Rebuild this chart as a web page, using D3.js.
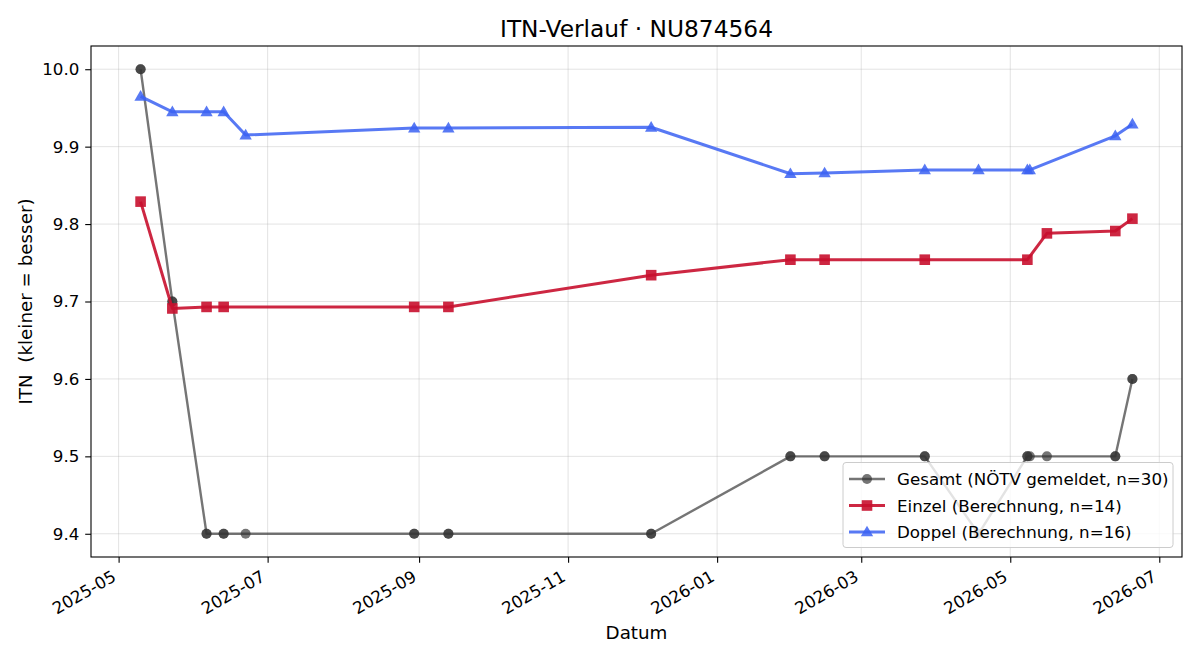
<!DOCTYPE html>
<html>
<head>
<meta charset="utf-8">
<script src="https://cdn.jsdelivr.net/npm/d3@7"></script>
<style>
  html, body { margin: 0; padding: 0; background: #fff; }
  text { font-family: "DejaVu Sans", sans-serif; }
</style>
</head>
<body>
<svg id="chart" width="1200" height="660"></svg>
<script>
// ---- data ----
const gesamtDates = ["2025-05-10","2025-05-10","2025-05-23","2025-05-23","2025-06-06","2025-06-06","2025-06-13","2025-06-13","2025-06-22",
  "2025-08-30","2025-08-30","2025-09-13","2025-09-13","2025-12-05","2025-12-05","2026-01-31","2026-01-31","2026-02-14","2026-02-14",
  "2026-03-27","2026-03-27","2026-04-18","2026-05-08","2026-05-08","2026-05-09","2026-05-16","2026-06-13","2026-06-13","2026-06-20","2026-06-20"];
const gesamtValues = [10.0,10.0,9.7,9.7,9.4,9.4,9.4,9.4,9.4,
  9.4,9.4,9.4,9.4,9.4,9.4,9.5,9.5,9.5,9.5,
  9.5,9.5,9.4,9.5,9.5,9.5,9.5,9.5,9.5,9.6,9.6];

const einzelDates = ["2025-05-10","2025-05-23","2025-06-06","2025-06-13","2025-08-30","2025-09-13","2025-12-05",
  "2026-01-31","2026-02-14","2026-03-27","2026-05-08","2026-05-16","2026-06-13","2026-06-20"];
const einzelValues = [9.829,9.691,9.693,9.693,9.693,9.693,9.734,9.754,9.754,9.754,9.754,9.788,9.791,9.807];

const doppelDates = ["2025-05-10","2025-05-23","2025-06-06","2025-06-13","2025-06-22","2025-08-30","2025-09-13","2025-12-05",
  "2026-01-31","2026-02-14","2026-03-27","2026-04-18","2026-05-08","2026-05-09","2026-06-13","2026-06-20"];
const doppelValues = [9.965,9.945,9.945,9.945,9.915,9.924,9.924,9.925,9.865,9.866,9.870,9.870,9.870,9.870,9.914,9.929];

const xTickLabels = ["2025-05","2025-07","2025-09","2025-11","2026-01","2026-03","2026-05","2026-07"];
const yTickValues = [9.4,9.5,9.6,9.7,9.8,9.9,10.0];
const seriesNames = ["Gesamt (NÖTV gemeldet, n=30)","Einzel (Berechnung, n=14)","Doppel (Berechnung, n=16)"];
const titleText = "ITN-Verlauf · NU874564";
const xLabel = "Datum";
const yLabel = "ITN  (kleiner = besser)";

// ---- setup ----
const parse = d3.utcParse("%Y-%m-%d");
const parseM = d3.utcParse("%Y-%m");
const zip = (ds, vs) => ds.map((d, i) => ({ date: parse(d), value: vs[i] }));
const series = [
  { name: seriesNames[0], data: zip(gesamtDates, gesamtValues), color: "#333333", opacity: 0.68, width: 2.4, marker: "circle" },
  { name: seriesNames[1], data: zip(einzelDates, einzelValues), color: "#c8102e", opacity: 0.9, width: 3.0, marker: "square" },
  { name: seriesNames[2], data: zip(doppelDates, doppelValues), color: "#3b62f2", opacity: 0.85, width: 3.0, marker: "triangle" }
];

const L = 91, R = 1182, T = 46, B = 557;
const FS_TICK = 16.7, FS_LAB = 18.3, FS_TITLE = 23.3, FS_LEG = 16.7;
const svg = d3.select("#chart");

const allDates = series.flatMap(s => s.data.map(d => +d.date));
const allVals = series.flatMap(s => s.data.map(d => d.value));
const dMin = d3.min(allDates), dMax = d3.max(allDates);
const dPad = (dMax - dMin) * 0.05;
const vMin = d3.min(allVals), vMax = d3.max(allVals);
const vPad = (vMax - vMin) * 0.05;

const x = d3.scaleUtc().domain([new Date(dMin - dPad), new Date(dMax + dPad)]).range([L, R]);
const y = d3.scaleLinear().domain([vMin - vPad, vMax + vPad]).range([B, T]);

const xTicks = xTickLabels.map(parseM);

// grid
const grid = svg.append("g");
grid.selectAll("line.gx").data(xTicks).join("line")
  .attr("x1", d => x(d)).attr("x2", d => x(d)).attr("y1", T).attr("y2", B)
  .attr("stroke", "#b0b0b0").attr("stroke-opacity", 0.35).attr("stroke-width", 1);
grid.selectAll("line.gy").data(yTickValues).join("line")
  .attr("x1", L).attr("x2", R).attr("y1", d => y(d)).attr("y2", d => y(d))
  .attr("stroke", "#b0b0b0").attr("stroke-opacity", 0.35).attr("stroke-width", 1);

// series
const line = d3.line().x(d => x(d.date)).y(d => y(d.value));
const tri = d3.symbol().type(d3.symbolTriangle).size(66);
function drawMarker(g, s, cx, cy) {
  if (s.marker === "circle") {
    g.append("circle").attr("cx", cx).attr("cy", cy).attr("r", 5)
      .attr("fill", s.color).attr("fill-opacity", s.opacity);
  } else if (s.marker === "square") {
    g.append("rect").attr("x", cx - 5.3).attr("y", cy - 5.3).attr("width", 10.6).attr("height", 10.6)
      .attr("fill", s.color).attr("fill-opacity", s.opacity);
  } else {
    g.append("path").attr("d", tri).attr("transform", `translate(${cx},${cy + 0.8})`)
      .attr("fill", s.color).attr("fill-opacity", s.opacity);
  }
}
const plot = svg.append("g");
series.forEach(s => {
  plot.append("path").datum(s.data).attr("d", line)
    .attr("fill", "none").attr("stroke", s.color).attr("stroke-opacity", s.opacity)
    .attr("stroke-width", s.width).attr("stroke-linejoin", "round").attr("stroke-linecap", "butt");
  const mg = plot.append("g");
  s.data.forEach(d => drawMarker(mg, s, x(d.date), y(d.value)));
});

// axes
const xAxis = d3.axisBottom(x).tickValues(xTicks).tickSize(5.8).tickPadding(5.8).tickFormat(d3.utcFormat("%Y-%m"));
const yAxis = d3.axisLeft(y).tickValues(yTickValues).tickSize(5.8).tickPadding(5.8).tickFormat(d3.format(".1f"));

const gx = svg.append("g").attr("transform", `translate(0,${B})`).call(xAxis);
gx.select(".domain").remove();
gx.selectAll(".tick line").attr("stroke", "#000").attr("stroke-width", 1.1);
gx.selectAll(".tick text")
  .attr("font-size", FS_TICK).attr("fill", "#000")
  .attr("text-anchor", "end").attr("dy", null).attr("y", 0)
  .attr("transform", "translate(-2,23) rotate(-30)");

const gy = svg.append("g").attr("transform", `translate(${L},0)`).call(yAxis);
gy.select(".domain").remove();
gy.selectAll(".tick line").attr("stroke", "#000").attr("stroke-width", 1.1);
gy.selectAll(".tick text").attr("font-size", FS_TICK).attr("fill", "#000");

// frame
svg.append("rect").attr("x", L).attr("y", T).attr("width", R - L).attr("height", B - T)
  .attr("fill", "none").attr("stroke", "#000").attr("stroke-width", 1.1);

// labels
svg.append("text").attr("x", (L + R) / 2).attr("y", 36.5).attr("text-anchor", "middle")
  .attr("font-size", FS_TITLE).attr("fill", "#000").text(titleText);
svg.append("text").attr("x", (L + R) / 2).attr("y", 639).attr("text-anchor", "middle")
  .attr("font-size", FS_LAB).attr("fill", "#000").text(xLabel);
svg.append("text").attr("transform", `translate(32,${(T + B) / 2}) rotate(-90)`).attr("text-anchor", "middle")
  .attr("font-size", FS_LAB).attr("fill", "#000").attr("xml:space", "preserve").style("white-space", "pre").text(yLabel);

// legend
const lg = svg.append("g");
lg.append("rect").attr("x", 843).attr("y", 462.5).attr("width", 330).attr("height", 85).attr("rx", 3)
  .attr("fill", "#fff").attr("fill-opacity", 0.8).attr("stroke", "#cccccc").attr("stroke-width", 1);
series.forEach((s, i) => {
  const cy = 479 + i * 26.5;
  lg.append("line").attr("x1", 849).attr("x2", 885).attr("y1", cy).attr("y2", cy)
    .attr("stroke", s.color).attr("stroke-opacity", s.opacity).attr("stroke-width", s.width);
  drawMarker(lg, s, 867, cy);
  lg.append("text").attr("x", 897).attr("y", cy + 6).attr("font-size", FS_LEG).attr("fill", "#000").text(s.name);
});
</script>
</body>
</html>
